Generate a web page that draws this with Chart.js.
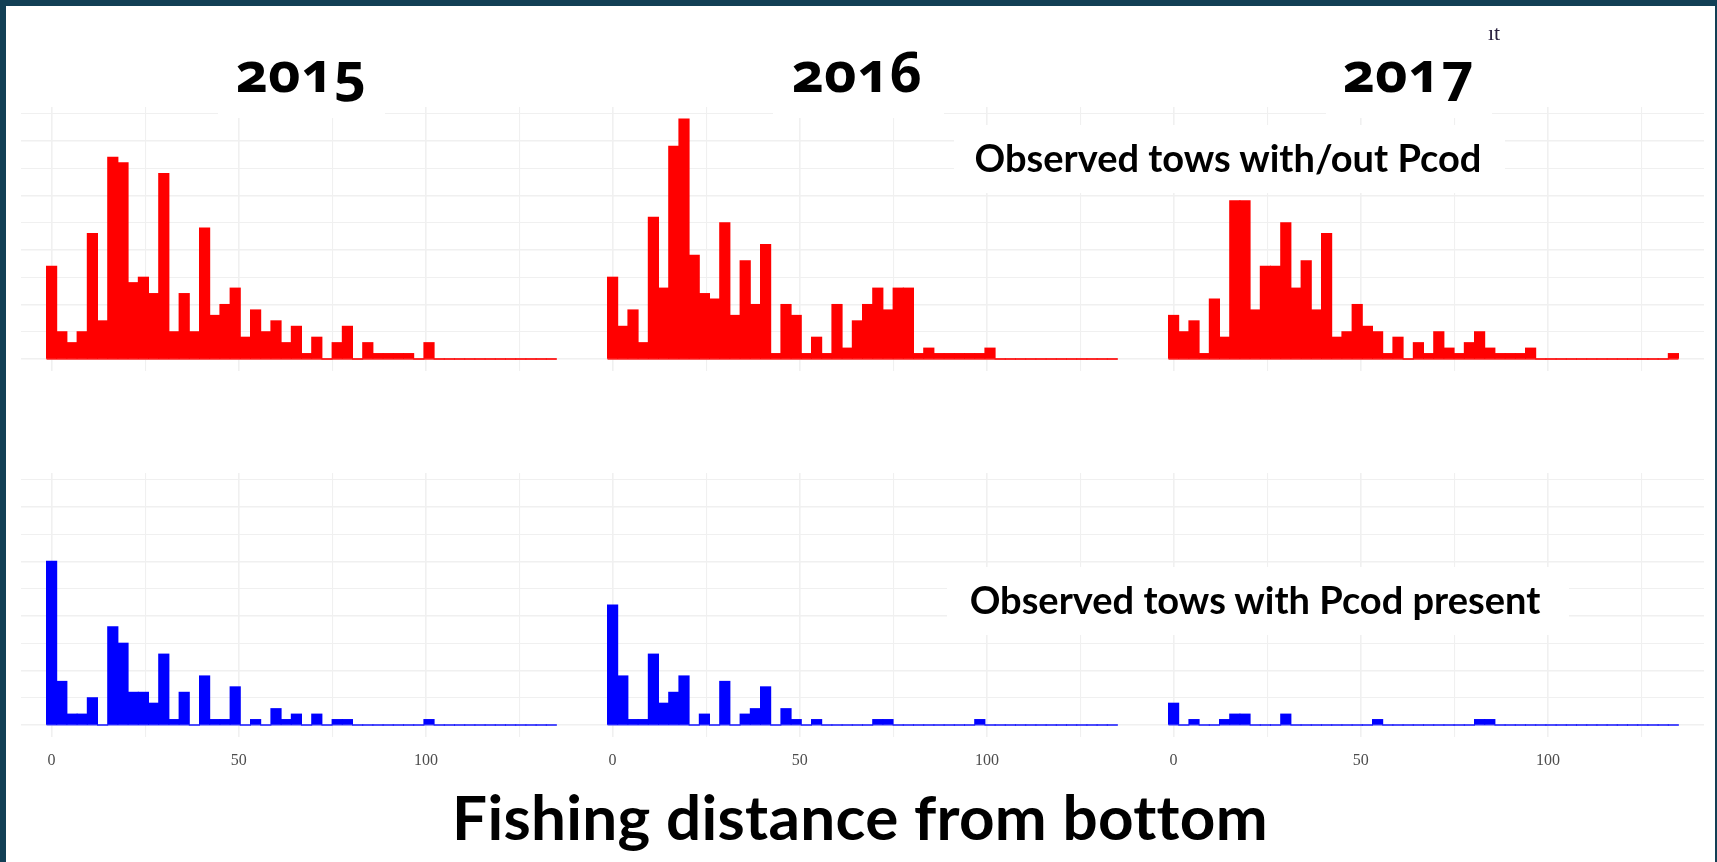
<!DOCTYPE html>
<html>
<head>
<meta charset="utf-8">
<title>Fishing distance from bottom</title>
<script src="https://cdn.jsdelivr.net/npm/chart.js@4.4.1/dist/chart.umd.min.js"></script>
<style>
  html, body { margin: 0; padding: 0; }
  body { width: 1717px; height: 862px; position: relative; overflow: hidden; background: #fff; }
  canvas { position: absolute; }
  .mask { position: absolute; background: #fff; }
  .txt { position: absolute; width: 1000px; margin-left: -500px; text-align: center; white-space: nowrap; line-height: 1; color: #000; }
  .year { font-family: "Noto Sans", sans-serif; font-weight: 700; font-size: 56px; font-variant-numeric: oldstyle-nums; }
  .sub { font-family: Lato, sans-serif; font-weight: 700; font-size: 38px; }
  .title { font-family: Lato, sans-serif; font-weight: 700; font-size: 62px; letter-spacing: 0.3px; }
  .stray { position: absolute; font-family: "Liberation Serif", serif; font-size: 22px; line-height: 1; color: #2b2140; }
  .frame { position: absolute; left: 0; top: 0; width: 1717px; height: 862px; box-sizing: border-box;
           border-top: 6px solid #123f55; border-left: 6px solid #123f55; border-right: 2px solid #123f55; pointer-events: none; }
</style>
</head>
<body>
<canvas id="all2015" width="561" height="264" style="left:21px;top:107px"></canvas>
<canvas id="all2016" width="561" height="264" style="left:582px;top:107px"></canvas>
<canvas id="all2017" width="561" height="264" style="left:1143px;top:107px"></canvas>
<canvas id="pcod2015" width="561" height="304" style="left:21px;top:473px"></canvas>
<canvas id="pcod2016" width="561" height="304" style="left:582px;top:473px"></canvas>
<canvas id="pcod2017" width="561" height="304" style="left:1143px;top:473px"></canvas>

<!-- white text boxes sitting over the plots -->
<div class="mask" style="left:218px;top:40px;width:167px;height:78px"></div>
<div class="mask" style="left:773px;top:40px;width:171px;height:78px"></div>
<div class="mask" style="left:1326px;top:40px;width:166px;height:78px"></div>
<div class="mask" style="left:954px;top:125px;width:551px;height:68px"></div>
<div class="mask" style="left:947px;top:567px;width:622px;height:68px"></div>

<div class="txt year" style="left:301px;top:42px">2015</div>
<div class="txt year" style="left:857px;top:42px">2016</div>
<div class="txt year" style="left:1408px;top:42px">2017</div>
<div class="txt sub" style="left:1228px;top:138px">Observed tows with/out Pcod</div>
<div class="txt sub" style="left:1255px;top:580px">Observed tows with Pcod present</div>
<div class="txt title" style="left:860px;top:785px">Fishing distance from bottom</div>
<div class="stray" style="left:1488px;top:22px">ıt</div>
<div class="frame"></div>

<script>
// Histogram bins (50 bins, width ~2.72, first bin centred on 0)
const binWidth = 2.724;
const binCount = 50;
const binCenters = Array.from({ length: binCount }, (_, i) => i * binWidth);

const xTicks = [0, 25, 50, 75, 100, 125];
const xTickLabels = ['0', '', '50', '', '100', ''];
const yTicks = [0, 5, 10, 15, 20, 25, 30, 35, 40, 45];

// Observed tows with/out Pcod (counts per bin)
const towsAll2015 = [17, 5, 3, 5, 23, 7, 37, 36, 14, 15, 12, 34, 5, 12, 5, 24, 8, 10, 13, 4, 9, 5, 7, 3, 6,
  1, 4, 0, 3, 6, 0, 3, 1, 1, 1, 1, 0, 3, 0, 0, 0, 0, 0, 0, 0, 0, 0, 0, 0, 0];
const towsAll2016 = [15, 6, 9, 3, 26, 13, 39, 44, 19, 12, 11, 25, 8, 18, 10, 21, 1, 10, 8, 1, 4, 1, 10, 2, 7,
  10, 13, 9, 13, 13, 1, 2, 1, 1, 1, 1, 1, 2, 0, 0, 0, 0, 0, 0, 0, 0, 0, 0, 0, 0];
const towsAll2017 = [8, 5, 7, 1, 11, 4, 29, 29, 9, 17, 17, 25, 13, 18, 9, 23, 4, 5, 10, 6, 5, 1, 4, 0, 3,
  1, 5, 2, 1, 3, 5, 2, 1, 1, 1, 2, 0, 0, 0, 0, 0, 0, 0, 0, 0, 0, 0, 0, 0, 1];

// Observed tows with Pcod present
const towsPcod2015 = [30, 8, 2, 2, 5, 0, 18, 15, 6, 6, 4, 13, 1, 6, 0, 9, 1, 1, 7, 0, 1, 0, 3, 1, 2,
  0, 2, 0, 1, 1, 0, 0, 0, 0, 0, 0, 0, 1, 0, 0, 0, 0, 0, 0, 0, 0, 0, 0, 0, 0];
const towsPcod2016 = [22, 9, 1, 1, 13, 4, 6, 9, 0, 2, 0, 8, 0, 2, 3, 7, 0, 3, 1, 0, 1, 0, 0, 0, 0,
  0, 1, 1, 0, 0, 0, 0, 0, 0, 0, 0, 1, 0, 0, 0, 0, 0, 0, 0, 0, 0, 0, 0, 0, 0];
const towsPcod2017 = [4, 0, 1, 0, 0, 1, 2, 2, 0, 0, 0, 2, 0, 0, 0, 0, 0, 0, 0, 0, 1, 0, 0, 0, 0,
  0, 0, 0, 0, 0, 1, 1, 0, 0, 0, 0, 0, 0, 0, 0, 0, 0, 0, 0, 0, 0, 0, 0, 0, 0];

const gridColor = '#f0f0f0';

function makePanel(id, counts, fill, edge, showLabels) {
  const lo = binCenters[0] - binWidth / 2;
  const hi = binCenters[binCount - 1] + binWidth / 2;
  const pad = (hi - lo) * 0.05;

  new Chart(document.getElementById(id), {
    data: {
      datasets: [
        {
          type: 'bar',
          data: binCenters.map((c, i) => ({ x: c, y: counts[i] })),
          backgroundColor: fill,
          borderWidth: 0,
          barPercentage: 1,
          categoryPercentage: 1,
          inflateAmount: 0.5,
          order: 1
        },
        {
          // outline along the empty bins
          type: 'line',
          data: [{ x: lo, y: 0 }, { x: hi, y: 0 }],
          borderColor: edge,
          borderWidth: 1.6,
          pointRadius: 0,
          order: 2
        }
      ]
    },
    options: {
      responsive: false,
      animation: false,
      layout: { padding: 0 },
      plugins: { legend: { display: false }, tooltip: { enabled: false } },
      scales: {
        x: {
          type: 'linear',
          offset: false,
          min: lo - pad,
          max: hi + pad,
          afterBuildTicks: (s) => { s.ticks = xTicks.map((v) => ({ value: v })); },
          afterFit: (s) => { s.height = showLabels ? 40 : 0; },
          ticks: {
            display: showLabels,
            autoSkip: false,
            maxRotation: 0,
            padding: 14,
            color: '#4d4d4d',
            font: { family: '"Liberation Serif", serif', size: 16 },
            callback: (v, i) => xTickLabels[i]
          },
          grid: {
            offset: false,
            color: gridColor,
            lineWidth: (ctx) => (ctx.tick && ctx.tick.value % 50 === 0 ? 1.6 : 1.1),
            drawTicks: false
          },
          border: { display: false }
        },
        y: {
          min: -2.2,
          max: 46.2,
          afterBuildTicks: (s) => { s.ticks = yTicks.map((v) => ({ value: v })); },
          afterFit: (s) => { s.width = 0; },
          ticks: { display: false },
          grid: {
            color: gridColor,
            lineWidth: (ctx) => (ctx.tick && ctx.tick.value % 10 === 0 ? 1.6 : 1.1),
            drawTicks: false
          },
          border: { display: false }
        }
      }
    }
  });
}

makePanel('all2015', towsAll2015, '#ff0000', 'rgba(255,0,0,0.85)', false);
makePanel('all2016', towsAll2016, '#ff0000', 'rgba(255,0,0,0.85)', false);
makePanel('all2017', towsAll2017, '#ff0000', 'rgba(255,0,0,0.85)', false);
makePanel('pcod2015', towsPcod2015, '#0000ff', 'rgba(0,0,255,0.5)', true);
makePanel('pcod2016', towsPcod2016, '#0000ff', 'rgba(0,0,255,0.5)', true);
makePanel('pcod2017', towsPcod2017, '#0000ff', 'rgba(0,0,255,0.5)', true);
</script>
</body>
</html>
